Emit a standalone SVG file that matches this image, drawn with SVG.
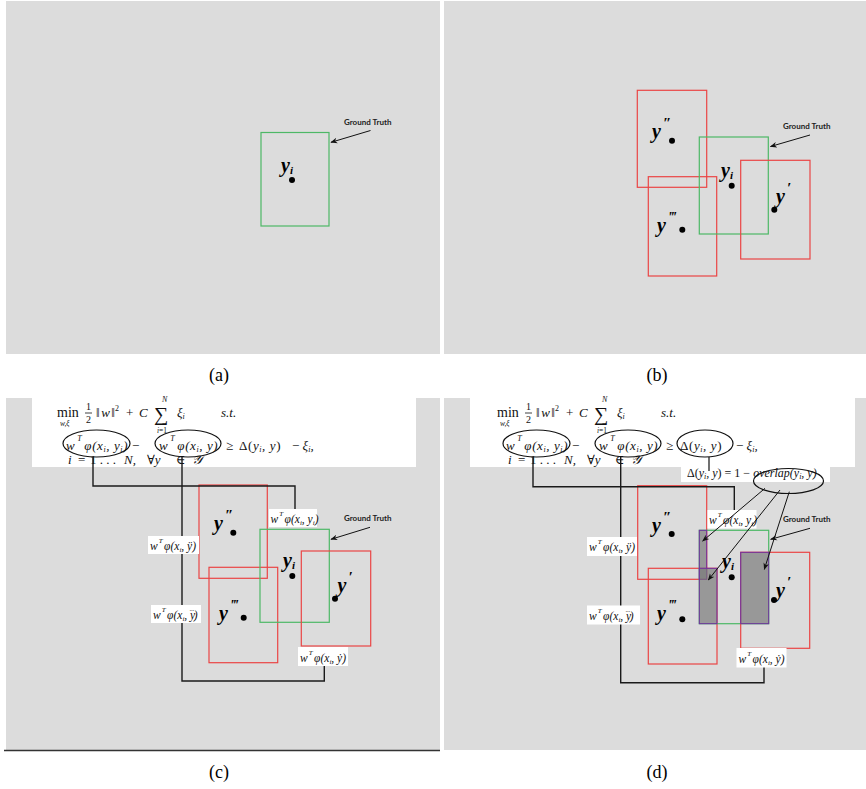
<svg xmlns="http://www.w3.org/2000/svg" width="866" height="789" viewBox="0 0 866 789">
<defs>
<marker id="ah" viewBox="0 0 10 10" refX="9" refY="5" markerWidth="7" markerHeight="7" markerUnits="userSpaceOnUse" orient="auto"><path d="M0,1 L10,5 L0,9 L3,5 z" fill="#111"/></marker>
<style>
.bg{fill:#dcdcdc}
.wb{fill:#fff}
.red{fill:none;stroke:#ea4545;stroke-width:1.2}
.grn{fill:none;stroke:#4db866;stroke-width:1.2}
.dot{fill:#000}
.yl{font-family:"Liberation Serif",serif;font-style:italic;font-weight:bold;font-size:20px;fill:#000}
.gt{font-family:Lato,"Liberation Sans",sans-serif;font-weight:bold;font-size:8px;fill:#222}
.conn{fill:none;stroke:#1a1a1a;stroke-width:1.4}
.arr{fill:none;stroke:#111;stroke-width:1;marker-end:url(#ah)}
.fm{font-family:"Liberation Serif","DejaVu Serif",serif;font-style:italic;font-size:13px;fill:#111}
.l2{letter-spacing:0.6px}
.up{font-style:normal}
.lab{font-family:"Liberation Serif","DejaVu Serif",serif;font-style:italic;font-size:11.5px;fill:#111}
.lbox{fill:#fff}
.ell{fill:none;stroke:#111;stroke-width:1.2}
.cap{font-family:"Liberation Serif",serif;font-size:18px;fill:#000;text-anchor:middle}
.ov{fill:#7a7a7a;fill-opacity:.7;stroke:#7030a0;stroke-width:1}
</style>
</defs>

<!-- Panel backgrounds -->
<rect class="bg" x="6" y="1" width="434" height="353"/>
<rect class="bg" x="444" y="1" width="422" height="353"/>
<rect class="bg" x="6" y="398" width="434" height="352"/>
<rect class="bg" x="444" y="398" width="422" height="352"/>
<line x1="4" y1="750.5" x2="440" y2="750.5" stroke="#333" stroke-width="1.5"/>

<text class="cap" x="219" y="381">(a)</text>
<text class="cap" x="657" y="381">(b)</text>
<text class="cap" x="219" y="778">(c)</text>
<text class="cap" x="657" y="778">(d)</text>

<!-- Panel (a) -->
<g id="a-gt">
<rect class="grn" x="261" y="132.5" width="68" height="93.5"/>
<circle class="dot" cx="292" cy="180" r="3"/>
<text class="yl" x="281" y="172">y<tspan style="font-size:11px" dy="2">i</tspan></text>
</g>
<g id="a-gt-label"><text class="gt" x="344" y="125">Ground Truth</text></g>

<!-- Panel (b) -->
<g id="b-y2">
<rect class="red" x="637.3" y="90.3" width="69.4" height="97"/>
<circle class="dot" cx="672" cy="140.7" r="3"/>
<text class="yl" x="652" y="138">y<tspan style="font-size:15px" dy="-10" dx="2">″</tspan></text>
</g>
<g id="b-y3">
<rect class="red" x="648.3" y="176.7" width="68.4" height="99.3"/>
<circle class="dot" cx="682.3" cy="229.7" r="3"/>
<text class="yl" x="657" y="231.7">y<tspan style="font-size:15px" dy="-10" dx="2">‴</tspan></text>
</g>
<g id="b-gt">
<rect class="grn" x="699.3" y="137" width="69" height="97"/>
<circle class="dot" cx="731.7" cy="185.7" r="3"/>
<text class="yl" x="721" y="176.7">y<tspan style="font-size:11px" dy="2">i</tspan></text>
</g>
<g id="b-y1">
<rect class="red" x="740.7" y="160.3" width="69.3" height="98.7"/>
<circle class="dot" cx="774.3" cy="209.7" r="3"/>
<text class="yl" x="776" y="203">y<tspan style="font-size:15px" dy="-10" dx="2">′</tspan></text>
</g>
<g id="b-gt-label"><text class="gt" x="783" y="129">Ground Truth</text></g>

<!-- Panel (c) formula -->
<g id="c-formula">
<rect class="wb" x="32" y="398" width="384" height="69"/>
<text class="fm up" x="57" y="417" style="font-size:14px">min</text>
<text class="fm" x="60" y="426" style="font-size:7.5px">w,ξ</text>
<text class="fm up" x="86" y="410" style="font-size:10px">1</text>
<line x1="85" y1="413" x2="92" y2="413" stroke="#111" stroke-width="0.8"/>
<text class="fm up" x="86" y="423" style="font-size:10px">2</text>
<text class="fm" x="96" y="417"><tspan class="up">‖</tspan><tspan dx="1.5">w</tspan><tspan class="up" dx="1.5">‖</tspan><tspan class="up" style="font-size:8px" dy="-6">2</tspan></text>
<text class="fm up" x="126" y="417">+</text>
<text class="fm" x="139" y="417">C</text>
<text class="fm up" x="154" y="421" style="font-size:20px">∑</text>
<text class="fm" x="162" y="402" style="font-size:8px">N</text>
<text class="fm" x="157" y="433" style="font-size:7.5px">i<tspan class="up">=1</tspan></text>
<text class="fm" x="177" y="417">ξ<tspan style="font-size:8px" dy="2">i</tspan></text>
<text class="fm" x="221" y="417">s.t.</text>
<text class="fm l2" x="66" y="450">w<tspan style="font-size:8px" dy="-9" dx="2">T</tspan><tspan dy="9" dx="2">φ(x</tspan><tspan style="font-size:8px" dy="2">i</tspan><tspan dy="-2">, y</tspan><tspan style="font-size:8px" dy="2">i</tspan><tspan dy="-2">)</tspan></text>
<text class="fm up" x="132" y="450">−</text>
<text class="fm l2" x="159" y="450">w<tspan style="font-size:8px" dy="-9" dx="2">T</tspan><tspan dy="9" dx="2">φ(x</tspan><tspan style="font-size:8px" dy="2">i</tspan><tspan dy="-2">, y)</tspan></text>
<text class="fm up" x="226" y="450">≥</text>
<text class="fm l2" x="239" y="450"><tspan class="up">Δ(</tspan>y<tspan style="font-size:8px" dy="2">i</tspan><tspan dy="-2">,  y</tspan><tspan class="up">)</tspan></text>
<text class="fm" x="292" y="450"><tspan class="up">−</tspan> ξ<tspan style="font-size:8px" dy="2">i</tspan><tspan dy="-2">,</tspan></text>
<text class="fm" x="68" y="463.5">i</text>
<text class="fm up" x="78" y="463.5">=</text>
<text class="fm up" x="90" y="463.5">1 . . .</text>
<text class="fm" x="124" y="463.5">N,</text>
<text class="fm" x="147" y="463.5"><tspan class="up">∀</tspan>y</text>
<text class="fm up" x="176" y="463.5">∈</text>
<text class="fm" x="192" y="463.5">𝒴</text>
<ellipse class="ell" cx="96.5" cy="443.5" rx="33.5" ry="13.5"/>
<ellipse class="ell" cx="188" cy="443.5" rx="33" ry="13.5"/>
</g>

<!-- Panel (c) boxes -->
<g id="c-y2">
<rect class="red" x="199" y="485" width="68.3" height="93.3"/>
<circle class="dot" cx="233.3" cy="532.7" r="3"/>
<text class="yl" x="214" y="530">y<tspan style="font-size:15px" dy="-10" dx="2">″</tspan></text>
</g>
<g id="c-y3">
<rect class="red" x="209" y="567.3" width="68.7" height="95.4"/>
<circle class="dot" cx="243.7" cy="617.7" r="3"/>
<text class="yl" x="219" y="620">y<tspan style="font-size:15px" dy="-10" dx="2">‴</tspan></text>
</g>
<g id="c-gt">
<rect class="grn" x="260" y="529.3" width="69.3" height="93"/>
<circle class="dot" cx="292.3" cy="576" r="3"/>
<text class="yl" x="283" y="567.3">y<tspan style="font-size:11px" dy="2">i</tspan></text>
</g>
<g id="c-y1">
<rect class="red" x="301.3" y="551" width="69.4" height="95"/>
<circle class="dot" cx="335" cy="598.7" r="3"/>
<text class="yl" x="337.5" y="592">y<tspan style="font-size:15px" dy="-10" dx="2">′</tspan></text>
</g>
<g id="c-gt-label"><text class="gt" x="344" y="521">Ground Truth</text></g>

<!-- Panel (d) formula -->
<g id="d-formula">
<rect class="wb" x="470" y="398" width="385" height="69"/>
<rect class="wb" x="681" y="466" width="149" height="16"/>
<text class="fm up" x="497" y="417" style="font-size:14px">min</text>
<text class="fm" x="500" y="426" style="font-size:7.5px">w,ξ</text>
<text class="fm up" x="526" y="410" style="font-size:10px">1</text>
<line x1="525" y1="413" x2="532" y2="413" stroke="#111" stroke-width="0.8"/>
<text class="fm up" x="526" y="423" style="font-size:10px">2</text>
<text class="fm" x="536" y="417"><tspan class="up">‖</tspan><tspan dx="1.5">w</tspan><tspan class="up" dx="1.5">‖</tspan><tspan class="up" style="font-size:8px" dy="-6">2</tspan></text>
<text class="fm up" x="566" y="417">+</text>
<text class="fm" x="579" y="417">C</text>
<text class="fm up" x="594" y="421" style="font-size:20px">∑</text>
<text class="fm" x="602" y="402" style="font-size:8px">N</text>
<text class="fm" x="597" y="433" style="font-size:7.5px">i<tspan class="up">=1</tspan></text>
<text class="fm" x="617" y="417">ξ<tspan style="font-size:8px" dy="2">i</tspan></text>
<text class="fm" x="661" y="417">s.t.</text>
<text class="fm l2" x="506" y="450">w<tspan style="font-size:8px" dy="-9" dx="2">T</tspan><tspan dy="9" dx="2">φ(x</tspan><tspan style="font-size:8px" dy="2">i</tspan><tspan dy="-2">, y</tspan><tspan style="font-size:8px" dy="2">i</tspan><tspan dy="-2">)</tspan></text>
<text class="fm up" x="572" y="450">−</text>
<text class="fm l2" x="599" y="450">w<tspan style="font-size:8px" dy="-9" dx="2">T</tspan><tspan dy="9" dx="2">φ(x</tspan><tspan style="font-size:8px" dy="2">i</tspan><tspan dy="-2">, y)</tspan></text>
<text class="fm up" x="666" y="450">≥</text>
<text class="fm l2" x="680" y="450"><tspan class="up">Δ(</tspan>y<tspan style="font-size:8px" dy="2">i</tspan><tspan dy="-2">,  y</tspan><tspan class="up">)</tspan></text>
<text class="fm" x="736" y="450"><tspan class="up">−</tspan> ξ<tspan style="font-size:8px" dy="2">i</tspan><tspan dy="-2">,</tspan></text>
<text class="fm" x="508" y="463.5">i</text>
<text class="fm up" x="518" y="463.5">=</text>
<text class="fm up" x="530" y="463.5">1 . . .</text>
<text class="fm" x="564" y="463.5">N,</text>
<text class="fm" x="587" y="463.5"><tspan class="up">∀</tspan>y</text>
<text class="fm up" x="615" y="463.5">∈</text>
<text class="fm" x="631" y="463.5">𝒴</text>
<ellipse class="ell" cx="536.5" cy="443.5" rx="33.5" ry="13.5"/>
<ellipse class="ell" cx="628" cy="443.5" rx="33" ry="13.5"/>
<ellipse class="ell" cx="705" cy="443.5" rx="28" ry="13.5"/>
<line x1="709" y1="457" x2="709" y2="471" stroke="#111" stroke-width="1.2"/>
<text class="fm" x="687" y="477" style="font-size:12px"><tspan class="up">Δ(</tspan>y<tspan style="font-size:8px" dy="2">i</tspan><tspan dy="-2">, y</tspan><tspan class="up">) = 1 −</tspan> overlap(y<tspan style="font-size:8px" dy="2">i</tspan><tspan dy="-2">, y)</tspan></text>
<ellipse class="ell" cx="788.5" cy="481" rx="35" ry="12.5"/>
</g>

<!-- Panel (d) boxes -->
<g id="d-y2">
<rect class="red" x="637.7" y="485.7" width="69" height="93.6"/>
<circle class="dot" cx="671.7" cy="534" r="3"/>
<text class="yl" x="652" y="531.7">y<tspan style="font-size:15px" dy="-10" dx="2">″</tspan></text>
</g>
<g id="d-y3">
<rect class="red" x="648.3" y="568.3" width="68.7" height="95.7"/>
<circle class="dot" cx="682.3" cy="619.3" r="3"/>
<text class="yl" x="657" y="620">y<tspan style="font-size:15px" dy="-10" dx="2">‴</tspan></text>
</g>
<g id="d-gt">
<rect class="grn" x="699.3" y="530.3" width="69.4" height="93.4"/>
<circle class="dot" cx="731.7" cy="577.3" r="3"/>
<text class="yl" x="722" y="568.3">y<tspan style="font-size:11px" dy="2">i</tspan></text>
</g>
<g id="d-y1">
<rect class="red" x="740.7" y="552.3" width="69" height="96"/>
<circle class="dot" cx="774" cy="600" r="3"/>
<text class="yl" x="776" y="596.7">y<tspan style="font-size:15px" dy="-10" dx="2">′</tspan></text>
</g>
<g id="d-overlaps">
<rect class="ov" x="699.3" y="530.3" width="7.4" height="49"/>
<rect class="ov" x="699.3" y="568.3" width="17.7" height="55.4"/>
<rect class="ov" x="740.7" y="552.3" width="28" height="71.4"/>
</g>
<g id="d-gt-label"><text class="gt" x="783" y="521.7">Ground Truth</text></g>

<!-- Connectors -->
<g id="connectors">
<path class="conn" d="M93,457 V486 H295 V509"/>
<path class="conn" d="M182,457 V681 H324.3 V666"/>
<path class="conn" d="M533,457 V486.7 H734.3 V510"/>
<path class="conn" d="M620.7,457 V682.7 H764 V667"/>
<path class="arr" d="M370.5,130.5 L331,142.3"/>
<path class="arr" d="M810,135 L770.5,146.5"/>
<path class="arr" d="M370,527.3 L331,539.3"/>
<path class="arr" d="M810,528.3 L770.7,539.3"/>
</g>

<!-- Score labels -->
<g id="c-lab-yi"><rect class="lbox" x="269" y="509" width="48" height="18"/>
<text class="lab" x="270.5" y="523">w<tspan style="font-size:7px" dy="-7" dx="1">T</tspan><tspan dy="7" dx="1.5">φ(x</tspan><tspan style="font-size:7px" dy="2">i</tspan><tspan dy="-2">, y</tspan><tspan style="font-size:7px" dy="2">i</tspan><tspan dy="-2">)</tspan></text></g>
<g id="c-lab-y2"><rect class="lbox" x="148" y="536" width="51" height="18"/>
<text class="lab" x="150" y="550">w<tspan style="font-size:7px" dy="-7" dx="1">T</tspan><tspan dy="7" dx="1.5">φ(x</tspan><tspan style="font-size:7px" dy="2">i</tspan><tspan dy="-2">, ÿ)</tspan></text></g>
<g id="c-lab-y3"><rect class="lbox" x="151" y="605" width="50" height="18"/>
<text class="lab" x="153" y="619">w<tspan style="font-size:7px" dy="-7" dx="1">T</tspan><tspan dy="7" dx="1.5">φ(x</tspan><tspan style="font-size:7px" dy="2">i</tspan><tspan dy="-2">, y</tspan><tspan style="font-size:6px" dx="-5.5" dy="-8">...</tspan><tspan dy="8" dx="-0.5">)</tspan></text></g>
<g id="c-lab-y1"><rect class="lbox" x="298" y="647" width="50" height="19"/>
<text class="lab" x="300" y="662">w<tspan style="font-size:7px" dy="-7" dx="1">T</tspan><tspan dy="7" dx="1.5">φ(x</tspan><tspan style="font-size:7px" dy="2">i</tspan><tspan dy="-2">, ẏ)</tspan></text></g>

<g id="d-lab-yi"><rect class="lbox" x="707.5" y="510" width="49" height="18.5"/>
<text class="lab" x="709" y="524">w<tspan style="font-size:7px" dy="-7" dx="1">T</tspan><tspan dy="7" dx="1.5">φ(x</tspan><tspan style="font-size:7px" dy="2">i</tspan><tspan dy="-2">, y</tspan><tspan style="font-size:7px" dy="2">i</tspan><tspan dy="-2">)</tspan></text></g>
<g id="d-lab-y2"><rect class="lbox" x="587" y="537" width="50" height="19"/>
<text class="lab" x="589" y="551">w<tspan style="font-size:7px" dy="-7" dx="1">T</tspan><tspan dy="7" dx="1.5">φ(x</tspan><tspan style="font-size:7px" dy="2">i</tspan><tspan dy="-2">, ÿ)</tspan></text></g>
<g id="d-lab-y3"><rect class="lbox" x="587" y="605.5" width="53" height="19"/>
<text class="lab" x="589" y="620">w<tspan style="font-size:7px" dy="-7" dx="1">T</tspan><tspan dy="7" dx="1.5">φ(x</tspan><tspan style="font-size:7px" dy="2">i</tspan><tspan dy="-2">, y</tspan><tspan style="font-size:6px" dx="-5.5" dy="-8">...</tspan><tspan dy="8" dx="-0.5">)</tspan></text></g>
<g id="d-lab-y1"><rect class="lbox" x="736.5" y="648" width="50" height="19.5"/>
<text class="lab" x="738.5" y="663">w<tspan style="font-size:7px" dy="-7" dx="1">T</tspan><tspan dy="7" dx="1.5">φ(x</tspan><tspan style="font-size:7px" dy="2">i</tspan><tspan dy="-2">, ẏ)</tspan></text></g>

<g id="overlap-arrows">
<path class="arr" d="M765,488.3 L702.7,541"/>
<path class="arr" d="M780,490 L708.3,580"/>
<path class="arr" d="M789.3,491.7 L764.3,569.3"/>
</g>
</svg>
